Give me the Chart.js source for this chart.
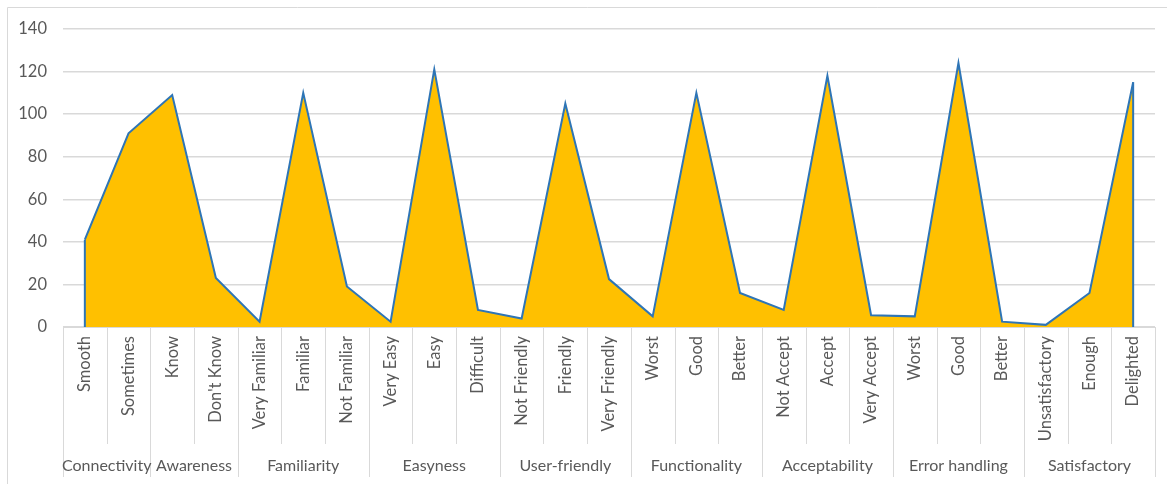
<!DOCTYPE html>
<html>
<head>
<meta charset="utf-8">
<script src="https://cdn.jsdelivr.net/npm/chart.js@4.4.1/dist/chart.umd.min.js"></script>
<style>
  html, body { margin: 0; padding: 0; background: #fff; }
</style>
</head>
<body>
<canvas id="chart" width="1167" height="484"></canvas>
<script>
// data
const categories = ['Smooth', 'Sometimes', 'Know', "Don't Know", 'Very Familiar', 'Familiar', 'Not Familiar',
    'Very Easy', 'Easy', 'Difficult', 'Not Friendly', 'Friendly', 'Very Friendly', 'Worst', 'Good', 'Better',
    'Not Accept', 'Accept', 'Very Accept', 'Worst', 'Good', 'Better', 'Unsatisfactory', 'Enough', 'Delighted'];
const values = [41, 91, 109, 23, 2.5, 110, 19, 2.5, 121, 8, 4, 105, 22.5, 5, 110, 16, 8, 118, 5.5, 5, 124, 2.5, 1, 16, 115];
const groupNames = ['Connectivity', 'Awareness', 'Familiarity', 'Easyness', 'User-friendly', 'Functionality',
    'Acceptability', 'Error handling', 'Satisfactory'];
const groupSizes = [2, 2, 3, 3, 3, 3, 3, 3, 3];
const yMax = 140;
const yStep = 20;

const textColor = '#595959';
const gridColor = '#D9D9D9';
const fontFamily = 'Lato, "Open Sans", sans-serif';

// Excel-style extras: frame, area side edges, category separators and group labels
const excelAxis = {
    id: 'excelAxis',
    beforeDatasetsDraw(chart) {
        const ctx = chart.ctx;
        ctx.save();
        ctx.strokeStyle = gridColor;
        ctx.lineWidth = 1;
        ctx.beginPath();
        ctx.moveTo(7.5, chart.height);
        ctx.lineTo(7.5, 7.5);
        ctx.lineTo(chart.width, 7.5);
        ctx.stroke();
        ctx.restore();
    },
    afterDatasetsDraw(chart) {
        const ctx = chart.ctx;
        const y = chart.scales.y;
        const meta = chart.getDatasetMeta(0);
        const zero = y.getPixelForValue(0);
        const first = meta.data[0];
        const last = meta.data[meta.data.length - 1];
        ctx.save();
        ctx.strokeStyle = '#2E75B6';
        ctx.lineWidth = 2;
        ctx.beginPath();
        ctx.moveTo(first.x, first.y);
        ctx.lineTo(first.x, zero);
        ctx.moveTo(last.x, last.y);
        ctx.lineTo(last.x, zero);
        ctx.stroke();
        ctx.restore();
    },
    afterDraw(chart) {
        const ctx = chart.ctx;
        const x = chart.scales.x;
        const top = chart.chartArea.bottom;
        const n = categories.length;
        const half = (x.getPixelForValue(1) - x.getPixelForValue(0)) / 2;
        const edge = i => x.getPixelForValue(i) - half;

        ctx.save();
        ctx.strokeStyle = gridColor;
        ctx.lineWidth = 1;

        const bounds = [0];
        groupSizes.forEach(s => bounds.push(bounds[bounds.length - 1] + s));

        ctx.beginPath();
        ctx.moveTo(chart.chartArea.left, top + 0.5);
        ctx.lineTo(chart.chartArea.right, top + 0.5);
        for (let i = 0; i <= n; i++) {
            const px = Math.round(edge(i)) + 0.5;
            ctx.moveTo(px, top);
            ctx.lineTo(px, bounds.includes(i) ? 477 : 444);
        }
        ctx.stroke();

        ctx.fillStyle = textColor;
        ctx.font = '16px ' + fontFamily;
        ctx.textAlign = 'center';
        ctx.textBaseline = 'middle';
        groupNames.forEach((name, g) => {
            const cx = (edge(bounds[g]) + edge(bounds[g + 1])) / 2;
            ctx.fillText(name, cx, 466);
        });
        ctx.restore();
    }
};

new Chart(document.getElementById('chart'), {
    type: 'line',
    data: {
        labels: categories,
        datasets: [{
            data: values,
            borderColor: '#2E75B6',
            borderWidth: 2,
            backgroundColor: '#FFC000',
            fill: 'origin',
            pointRadius: 0,
            tension: 0
        }]
    },
    options: {
        responsive: false,
        animation: false,
        layout: { padding: { top: 29, right: 12, bottom: 0, left: 0 } },
        plugins: {
            legend: { display: false },
            tooltip: { enabled: false }
        },
        scales: {
            x: {
                offset: true,
                grid: { display: false, drawTicks: false },
                border: { display: false },
                afterFit: s => { s.height = 157; },
                ticks: {
                    autoSkip: false,
                    minRotation: 90,
                    maxRotation: 90,
                    padding: 9,
                    color: textColor,
                    font: { family: fontFamily, size: 16.5 }
                }
            },
            y: {
                min: 0,
                max: yMax,
                grid: { color: gridColor, lineWidth: 1.5, drawTicks: false },
                border: { display: false },
                afterFit: s => { s.width = 63; },
                ticks: {
                    stepSize: yStep,
                    padding: 16,
                    color: textColor,
                    font: { family: fontFamily, size: 16.5 }
                }
            }
        }
    },
    plugins: [excelAxis]
});
</script>
</body>
</html>
